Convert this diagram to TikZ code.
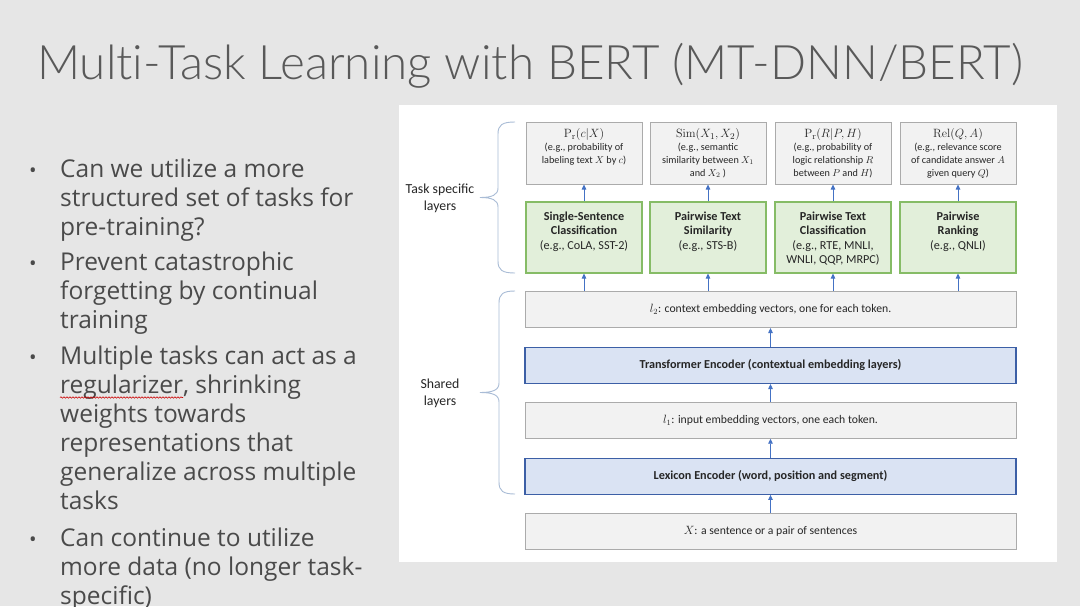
\documentclass[tikz,border=0pt]{standalone}
\usepackage{amsmath}
\usepackage[no-math]{fontspec}
\setmainfont{Carlito}
\IfFontExistsTF{Lato Light}{\newfontfamily\titlefont{Lato Light}[Ligatures=NoCommon]}{\newfontfamily\titlefont{Lato}[Ligatures=NoCommon]}
\newfontfamily\bodyfont{Open Sans}
\usetikzlibrary{arrows.meta,decorations.pathmorphing}
\definecolor{bgc}{HTML}{E6E6E6}
\definecolor{titlec}{HTML}{595959}
\definecolor{bodyc}{HTML}{4A4A4A}
\definecolor{txt}{HTML}{262626}
\definecolor{grayf}{HTML}{F2F2F2}
\definecolor{grayb}{HTML}{ABABAB}
\definecolor{greenf}{HTML}{E2EFDA}
\definecolor{greenb}{HTML}{86BC66}
\definecolor{bluef}{HTML}{DAE3F3}
\definecolor{blueb}{HTML}{3C5FA6}
\definecolor{arrc}{HTML}{4472C4}
\definecolor{bracec}{HTML}{A9BCD6}
\tikzset{
  gbox/.style={draw=grayb, fill=grayf, line width=1pt, minimum width=116pt, minimum height=62pt, inner sep=0pt},
  grbox/.style={draw=greenb, fill=greenf, line width=1.1pt, minimum width=116pt, minimum height=71pt, inner sep=0pt},
  widebox/.style={draw=grayb, fill=grayf, line width=1pt, minimum width=491pt, minimum height=36pt, inner sep=0pt, text=txt, font=\fontsize{11.7}{13}\selectfont},
  bluebox/.style={draw=blueb, fill=bluef, line width=1.4pt, minimum width=491pt, minimum height=36pt, inner sep=0pt, text=txt, font=\fontsize{12.2}{13}\selectfont\bfseries},
  toptxt/.style={anchor=north, align=center, inner sep=0pt, text=txt, font=\fontsize{10.2}{12.8}\selectfont},
  grtxt/.style={anchor=north, align=center, inner sep=0pt, text=txt, font=\fontsize{12.2}{14.5}\selectfont},
  arr/.style={draw=arrc, line width=0.8pt, -{Triangle[length=5pt,width=4.5pt]}},
  bracepath/.style={draw=bracec, line width=0.9pt},
  sidelab/.style={align=center, inner sep=0pt, text=txt, font=\fontsize{13.8}{17}\selectfont},
  bul/.style={anchor=base west, inner sep=0pt, text=bodyc, font=\bodyfont\fontsize{24.5}{29}\selectfont},
  dot/.style={anchor=base, inner sep=0pt, text=bodyc, font=\bodyfont\fontsize{20}{29}\selectfont},
}
\begin{document}
\begin{tikzpicture}[x=1pt,y=-1pt]
\useasboundingbox (0,0) rectangle (1080,606);
\fill[bgc] (0,0) rectangle (1080,606);
\fill[white] (399,105) rectangle (1057,562);

% title
\node[anchor=base west, inner sep=0pt, text=titlec, font=\titlefont\fontsize{47.5}{58}\selectfont] (title) at (37,79) {Multi-Task Learning with BERT (MT-DNN/BERT)};

% bullets
\node[dot] (d1) at (33,177) {•};
\node[bul] (b1a) at (60,177) {Can we utilize a more};
\node[bul] (b1b) at (60,206) {structured set of tasks for};
\node[bul] (b1c) at (60,235) {pre-training?};
\node[dot] (d2) at (33,270) {•};
\node[bul] (b2a) at (60,270) {Prevent catastrophic};
\node[bul] (b2b) at (60,299) {forgetting by continual};
\node[bul] (b2c) at (60,328) {training};
\node[dot] (d3) at (33,364) {•};
\node[bul] (b3a) at (60,364) {Multiple tasks can act as a};
\node[bul] (b3b) at (60,393) {regularizer, shrinking};
\node[bul] (b3c) at (60,422) {weights towards};
\node[bul] (b3d) at (60,451) {representations that};
\node[bul] (b3e) at (60,480) {generalize across multiple};
\node[bul] (b3f) at (60,509) {tasks};
\node[dot] (d4) at (33,546) {•};
\node[bul] (b4a) at (60,546) {Can continue to utilize};
\node[bul] (b4b) at (60,575) {more data (no longer task-};
\node[bul] (b4c) at (60,604) {specific)};
\draw[red!80!black, line width=0.6pt, decorate, decoration={snake, amplitude=0.7pt, segment length=3pt}] (60,397.5) -- (183,397.5);

% top task boxes
\node[gbox] (t1) at (584,153) {};
\node[gbox] (t2) at (708,153) {};
\node[gbox] (t3) at (833,153) {};
\node[gbox] (t4) at (958,153) {};
\node[toptxt] (t1t) at (584,128.5) {{\fontsize{12.5}{12.8}\selectfont$\mathrm{P_r}(c|X)$}\\(e.g., probability of\\labeling text $X$ by $c$)};
\node[toptxt] (t2t) at (708,128.5) {{\fontsize{12.5}{12.8}\selectfont$\mathrm{Sim}(X_1,X_2)$}\\(e.g., semantic\\similarity between $X_1$\\and $X_2$ )};
\node[toptxt] (t3t) at (833,128.5) {{\fontsize{12.5}{12.8}\selectfont$\mathrm{P_r}(R|P,H)$}\\(e.g., probability of\\logic relationship $R$\\between $P$ and $H$)};
\node[toptxt] (t4t) at (958,128.5) {{\fontsize{12.5}{12.8}\selectfont$\mathrm{Rel}(Q,A)$}\\(e.g., relevance score\\of candidate answer $A$\\given query $Q$)};

% green boxes
\node[grbox] (g1) at (584,237.5) {};
\node[grbox] (g2) at (708,237.5) {};
\node[grbox] (g3) at (833,237.5) {};
\node[grbox] (g4) at (958,237.5) {};
\node[grtxt] (g1t) at (584,211.5) {\textbf{Single-Sentence}\\\textbf{Classification}\\(e.g., CoLA, SST-2)};
\node[grtxt] (g2t) at (708,211.5) {\textbf{Pairwise Text}\\\textbf{Similarity}\\(e.g., STS-B)};
\node[grtxt] (g3t) at (833,211.5) {\textbf{Pairwise Text}\\\textbf{Classification}\\(e.g., RTE, MNLI,\\WNLI, QQP, MRPC)};
\node[grtxt] (g4t) at (958,211.5) {\textbf{Pairwise}\\\textbf{Ranking}\\(e.g., QNLI)};

% shared layers
\node[widebox] (l2) at (770.5,309.5) {$l_2$: context embedding vectors, one for each token.};
\node[bluebox] (tr) at (770.5,365.3) {Transformer Encoder (contextual embedding layers)};
\node[widebox] (l1) at (770.5,420.2) {$l_1$: input embedding vectors, one each token.};
\node[bluebox] (lex) at (770.5,476.2) {Lexicon Encoder (word, position and segment)};
\node[widebox] (x) at (770.5,531.3) {$X$: a sentence or a pair of sentences};

% arrows
\draw[arr] (x) -- (lex);
\draw[arr] (lex) -- (l1);
\draw[arr] (l1) -- (tr);
\draw[arr] (tr) -- (l2);
\foreach \g/\t in {g1/t1,g2/t2,g3/t3,g4/t4}{
  \draw[arr] (\g.south |- l2.north) -- (\g.south);
  \draw[arr] (\g) -- (\t);
}

% side labels and braces
\node[sidelab] (task) at (440,198.5) {Task specific\\layers};
\node[sidelab] (shared) at (440,393) {Shared\\layers};
\draw[bracepath] (515,122) .. controls (502,122) and (498,125) .. (498,134)
  -- (498,188) .. controls (498,195) and (492,197.5) .. (480,197.5)
  .. controls (492,197.5) and (498,200) .. (498,207)
  -- (498,261) .. controls (498,270) and (502,273) .. (515,273);
\draw[bracepath] (515,291) .. controls (503,291) and (499,294) .. (499,303)
  -- (499,383) .. controls (499,390) and (493,392.5) .. (480,392.5)
  .. controls (493,392.5) and (499,395) .. (499,402)
  -- (499,482) .. controls (499,491) and (503,494) .. (515,494);
\end{tikzpicture}
\end{document}
